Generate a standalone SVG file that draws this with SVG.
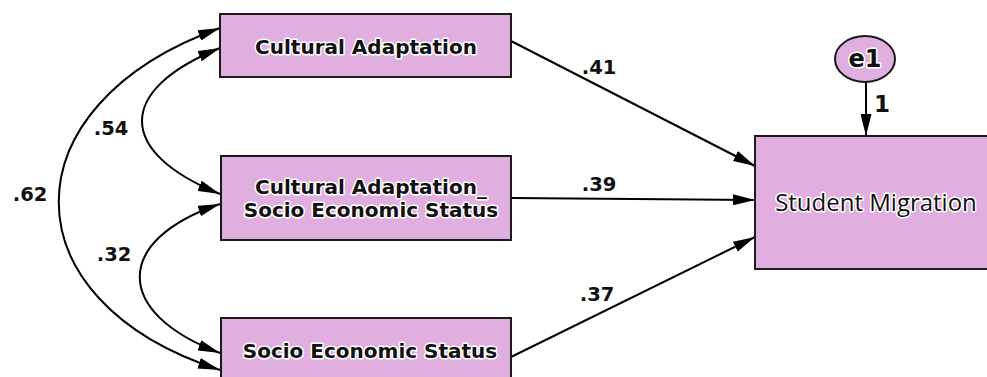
<svg xmlns="http://www.w3.org/2000/svg" width="987" height="377" viewBox="0 0 987 377">
<style>
.box{fill:#E0AFDF;stroke:#1a1a1a;stroke-width:2}
.lbl{font-family:"DejaVu Sans",Verdana,sans-serif;font-weight:bold;font-size:20px;fill:#111;text-anchor:middle;stroke:#fff;stroke-width:3;paint-order:stroke;stroke-linejoin:round}
.sm{font-family:"Open Sans","Noto Sans",sans-serif;font-size:24px;fill:#111;text-anchor:middle;stroke:#fff;stroke-width:3;paint-order:stroke;stroke-linejoin:round}
.num{font-family:"DejaVu Sans",Verdana,sans-serif;font-weight:bold;font-size:19.5px;fill:#111;text-anchor:middle}
.edge{fill:none;stroke:#000;stroke-width:2;marker-end:url(#ah)}
.cov{fill:none;stroke:#000;stroke-width:2;marker-start:url(#ahs);marker-end:url(#ah)}
</style>
<defs>
<marker id="ah" viewBox="0 0 22 11" refX="22" refY="5.5" markerWidth="22" markerHeight="11" markerUnits="userSpaceOnUse" orient="auto">
<path d="M0,0 L22,5.5 L0,11 z" fill="#000"/>
</marker>
<marker id="ahs" viewBox="0 0 22 11" refX="0" refY="5.5" markerWidth="22" markerHeight="11" markerUnits="userSpaceOnUse" orient="auto">
<path d="M22,0 L0,5.5 L22,11 z" fill="#000"/>
</marker>
</defs>
<rect width="987" height="377" fill="#fff"/>
<g id="connectors">
<path class="edge" d="M511,41 L755,166"/>
<path class="edge" d="M511,198 L755,200"/>
<path class="edge" d="M511,357 L755,237"/>
<path class="edge" d="M866,82 L866,136"/>
<path class="cov" d="M220,28 C5,105 5,301 220,370"/>
<path class="cov" d="M220,48 C116,90 116,152 220,194"/>
<path class="cov" d="M220,204 C113,240 113,313 220,353"/>
<text class="num" x="599" y="74">.41</text>
<text class="num" x="599" y="191">.39</text>
<text class="num" x="597" y="301">.37</text>
<text class="num" x="882" y="112" style="font-size:23px">1</text>
<text class="num" x="111" y="135">.54</text>
<text class="num" x="30" y="201">.62</text>
<text class="num" x="114" y="261">.32</text>
</g>
<g id="cultural_adaptation">
<rect class="box" x="220" y="14" width="291" height="63"/>
<text class="lbl" x="366" y="54">Cultural Adaptation</text>
</g>
<g id="ca_ses">
<rect class="box" x="221" y="156" width="290" height="84"/>
<text class="lbl" x="371" y="194">Cultural Adaptation_</text>
<text class="lbl" x="371" y="217">Socio Economic Status</text>
</g>
<g id="ses">
<rect class="box" x="221" y="318" width="290" height="70"/>
<text class="lbl" x="370" y="358">Socio Economic Status</text>
</g>
<g id="student_migration">
<rect class="box" x="755" y="136" width="240" height="133"/>
<text class="sm" x="876" y="211">Student Migration</text>
</g>
<g id="e1">
<ellipse cx="865" cy="59" rx="30" ry="23" fill="#E0AFDF" stroke="#1a1a1a" stroke-width="2"/>
<text class="lbl" x="865" y="67" style="font-size:24px">e1</text>
</g>
</svg>
